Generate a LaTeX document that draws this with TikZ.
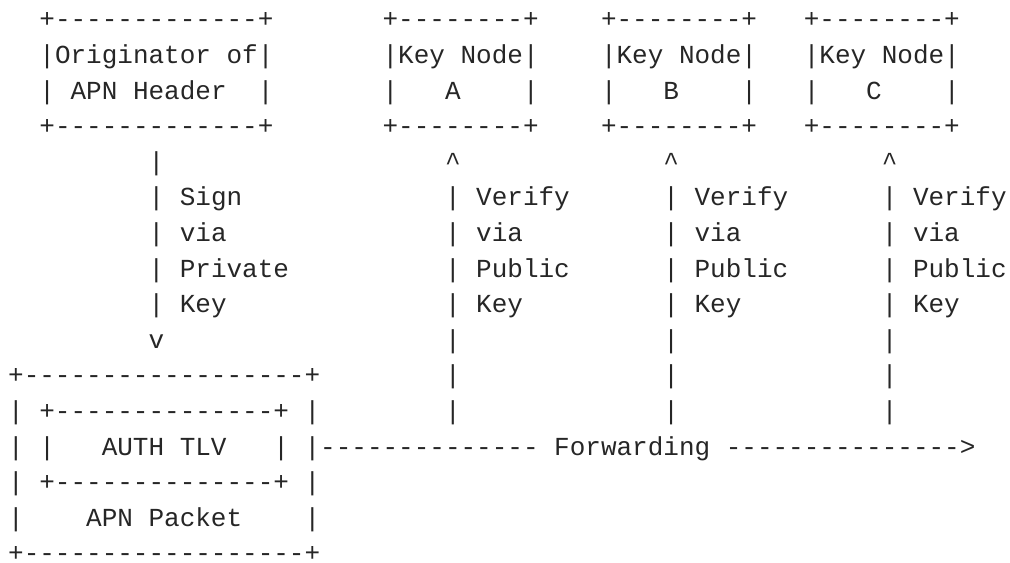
\documentclass[tikz,border=0pt]{standalone}
\usepackage{fontspec}
\setmonofont{Liberation Mono}
\definecolor{ink}{HTML}{262626}
\tikzset{
  txt/.style={anchor=base west, inner sep=0pt, outer sep=0pt, text=ink,
    text depth=0pt,
    font=\ttfamily\fontsize{19.5pt}{23pt}\selectfont}
}
% place a text fragment at a character cell: name, column, row, text
\newcommand{\cell}[4]{\node[txt] (#1) at ({8.2+15.6*#2},{27.9+35.6*(#3-1)}) {#4};}
\begin{document}
\begin{tikzpicture}[x=0.75pt, y=-0.75pt]
\useasboundingbox (0,0) rectangle (1010,562);
% originator box and key node boxes
\cell{origTop}{2}{1}{+-------------+}
\cell{origL1}{2}{2}{|Originator of|}
\cell{origL2}{2}{3}{|\ APN Header\ \ |}
\cell{origBot}{2}{4}{+-------------+}
\cell{aTop}{24}{1}{+--------+}
\cell{aL1}{24}{2}{|Key Node|}
\cell{aL2}{24}{3}{|\ \ \ A\ \ \ \ |}
\cell{aBot}{24}{4}{+--------+}
\cell{bTop}{38}{1}{+--------+}
\cell{bL1}{38}{2}{|Key Node|}
\cell{bL2}{38}{3}{|\ \ \ B\ \ \ \ |}
\cell{bBot}{38}{4}{+--------+}
\cell{cTop}{51}{1}{+--------+}
\cell{cL1}{51}{2}{|Key Node|}
\cell{cL2}{51}{3}{|\ \ \ C\ \ \ \ |}
\cell{cBot}{51}{4}{+--------+}
% signing arrow
\cell{s5}{9}{5}{|}
\cell{s6}{9}{6}{| Sign}
\cell{s7}{9}{7}{| via}
\cell{s8}{9}{8}{| Private}
\cell{s9}{9}{9}{| Key}
\cell{s10}{9}{10}{v}
% verification arrows
\foreach \k/\c in {a/28, b/42, c/56}{
  \cell{\k5}{\c}{5}{\textasciicircum}
  \cell{\k6}{\c}{6}{| Verify}
  \cell{\k7}{\c}{7}{| via}
  \cell{\k8}{\c}{8}{| Public}
  \cell{\k9}{\c}{9}{| Key}
  \cell{\k10}{\c}{10}{|}
  \cell{\k11}{\c}{11}{|}
  \cell{\k12}{\c}{12}{|}
}
% packet with AUTH TLV
\cell{pTop}{0}{11}{+------------------+}
\cell{pL1}{0}{12}{|\ +--------------+\ |}
\cell{pL2}{0}{13}{|\ |\ \ \ AUTH TLV\ \ \ |\ |}
\cell{pL3}{0}{14}{|\ +--------------+\ |}
\cell{pL4}{0}{15}{|\ \ \ \ APN Packet\ \ \ \ |}
\cell{pBot}{0}{16}{+------------------+}
% forwarding arrow
\cell{fwd}{20}{13}{-------------- Forwarding --------------->}
\end{tikzpicture}
\end{document}
